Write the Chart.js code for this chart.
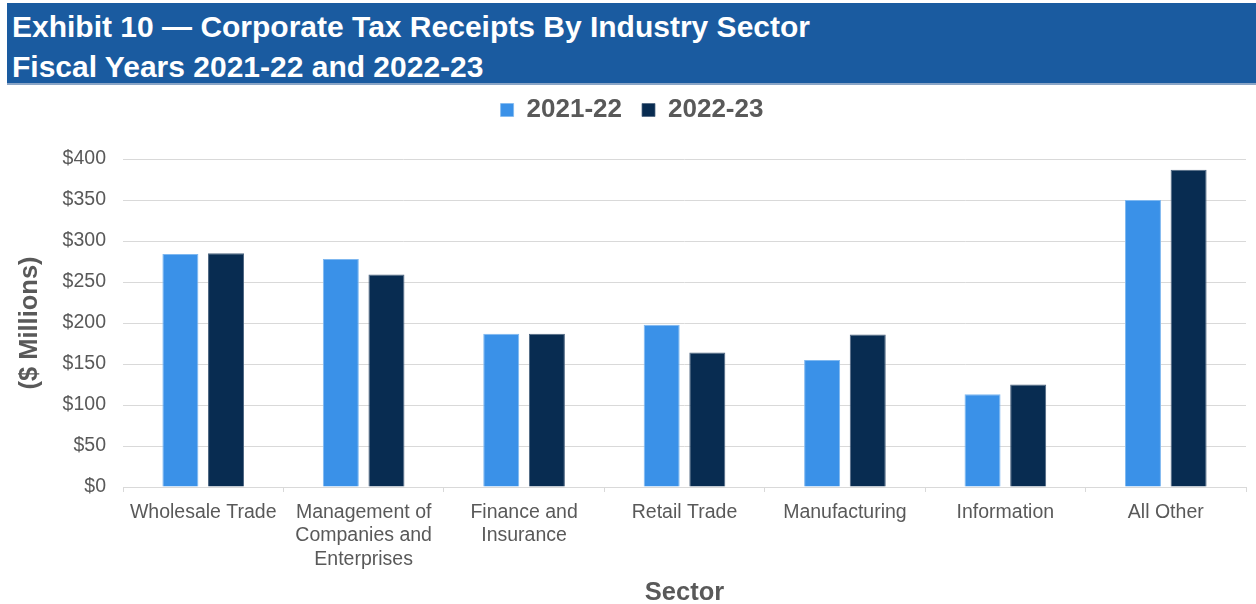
<!DOCTYPE html>
<html>
<head>
<meta charset="utf-8">
<title>Corporate Tax Receipts By Industry Sector</title>
<script src="https://cdn.jsdelivr.net/npm/chart.js@4.4.1/dist/chart.umd.min.js"></script>
<style>
  html, body { margin: 0; padding: 0; background: #ffffff; }
  body { width: 1256px; height: 604px; position: relative; overflow: hidden; }
  #banner {
    position: absolute; left: 7px; top: 3px; width: 1249px; height: 82px;
    background: #1a5ba0; border-bottom: 2px solid #8aa5c6;
    color: #ffffff; font-family: "Liberation Sans", Arial, sans-serif;
    font-weight: bold; font-size: 30px; line-height: 40px;
    padding: 4px 0 0 5px; box-sizing: border-box; z-index: 2;
  }
  #wrap { position: absolute; left: 0; top: 0; width: 1256px; height: 604px; }
</style>
</head>
<body>
<div id="banner">Exhibit 10 — Corporate Tax Receipts By Industry Sector<br>Fiscal Years 2021-22 and 2022-23</div>
<div id="wrap"><canvas id="chart" width="1256" height="604"></canvas></div>
<script>
// Sectors along the x axis (multi-line labels as arrays)
const sectors = [
  "Wholesale Trade",
  ["Management of", "Companies and", "Enterprises"],
  ["Finance and", "Insurance"],
  "Retail Trade",
  "Manufacturing",
  "Information",
  "All Other"
];

// Receipts in $ millions
const fy2021_22 = [284, 278, 187, 198, 155, 113, 350];
const fy2022_23 = [285, 259, 187, 164, 186, 125, 387];

// Value axis
const yMin = 0;
const yMax = 400;
const yStep = 50;

const GREY = "#595959";
const FONT = "'Liberation Sans', Arial, sans-serif";

// Fixed legend height so the plot starts where it should, and a small
// horizontal nudge so the legend sits centred over the plot
const legendSpace = {
  id: "legendSpace",
  beforeInit(chart) {
    const legend = chart.legend;
    if (!legend) return;
    const fit = legend.fit;
    legend.fit = function () {
      fit.call(this);
      this.height = 82;
    };
  },
  afterLayout(chart) {
    const legend = chart.legend;
    if (!legend) return;
    legend.left += 9;
    legend.right += 9;
  }
};

new Chart(document.getElementById("chart"), {
  type: "bar",
  data: {
    labels: sectors,
    datasets: [
      {
        label: "2021-22",
        data: fy2021_22,
        backgroundColor: "#3a91e8",
        borderColor: "#7fb8f0",
        borderWidth: { top: 1, left: 1, right: 1, bottom: 0 },
        categoryPercentage: 0.569,
        barPercentage: 0.789
      },
      {
        label: "2022-23",
        data: fy2022_23,
        backgroundColor: "#082c51",
        borderColor: "#4d6580",
        borderWidth: { top: 1, left: 1, right: 1, bottom: 0 },
        categoryPercentage: 0.569,
        barPercentage: 0.789
      }
    ]
  },
  options: {
    responsive: false,
    animation: false,
    layout: { padding: { top: 77, left: 0, right: 10, bottom: 0 } },
    plugins: {
      legend: {
        position: "top",
        align: "center",
        labels: {
          color: GREY,
          font: { family: FONT, size: 26, weight: "bold" },
          boxWidth: 13,
          boxHeight: 13,
          padding: 20
        }
      },
      tooltip: { enabled: false },
      title: { display: false }
    },
    scales: {
      x: {
        grid: {
          offset: true,
          drawOnChartArea: false,
          drawTicks: true,
          tickLength: 5,
          color: "#d9d9d9"
        },
        border: { display: true, color: "#d9d9d9", width: 1 },
        ticks: {
          color: GREY,
          font: { family: FONT, size: 19.5, lineHeight: 1.2 },
          maxRotation: 0,
          minRotation: 0,
          autoSkip: false,
          padding: 9
        },
        title: {
          display: true,
          text: "Sector",
          color: GREY,
          font: { family: FONT, size: 25.5, weight: "bold", lineHeight: 0.9 },
          padding: { top: 0, bottom: 0 }
        },
        afterFit(scale) { scale.height = 117; }
      },
      y: {
        min: yMin,
        max: yMax,
        ticks: {
          stepSize: yStep,
          color: GREY,
          font: { family: FONT, size: 19.5 },
          padding: 17,
          callback: (v) => "$" + v
        },
        grid: { color: "#d9d9d9", lineWidth: 1, drawTicks: false },
        border: { display: false },
        title: {
          display: true,
          text: "($ Millions)",
          color: GREY,
          font: { family: FONT, size: 25.5, weight: "bold" },
          padding: { top: 15, bottom: 0 }
        },
        afterFit(scale) { scale.width = 123; }
      }
    }
  },
  plugins: [legendSpace]
});
</script>
</body>
</html>
